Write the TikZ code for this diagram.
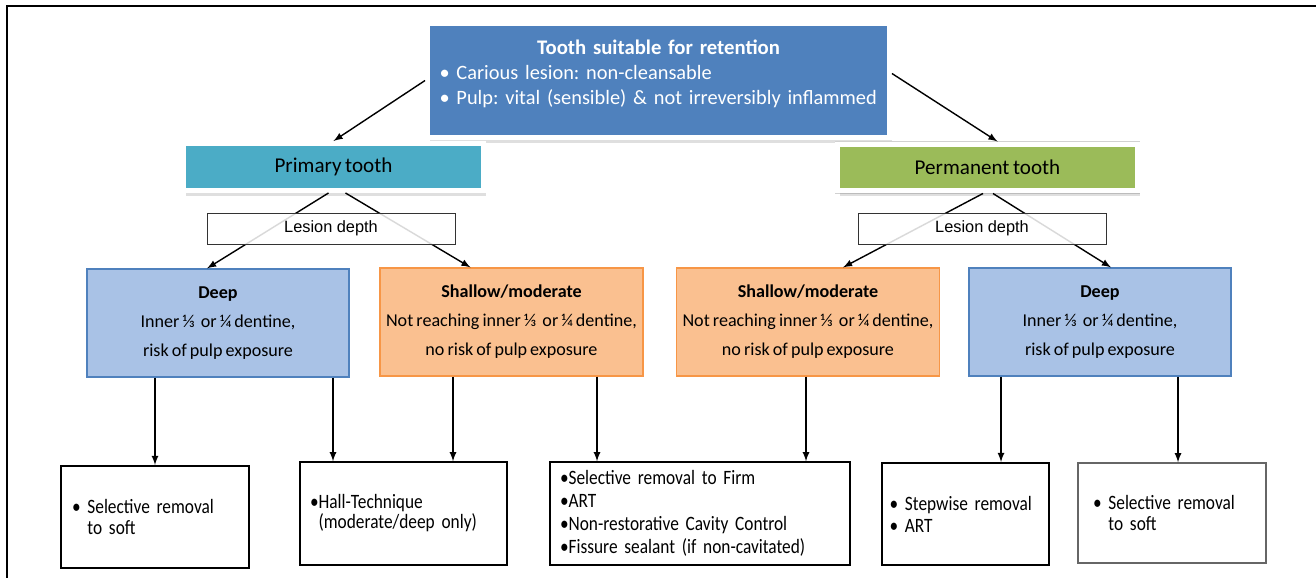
\documentclass[tikz,border=0pt]{standalone}
\usepackage{fontspec}
\setmainfont[WordSpace=0.75]{Carlito}
\newfontfamily\arialfont{Liberation Sans}
\newfontfamily\narrowfont[FakeStretch=0.85, WordSpace=0.8]{Carlito}
\usetikzlibrary{shadows}

\definecolor{topblue}{HTML}{4F81BD}
\definecolor{primteal}{HTML}{4BACC6}
\definecolor{permgreen}{HTML}{9BBB59}
\definecolor{deepfill}{HTML}{A9C2E6}
\definecolor{shalfill}{HTML}{FAC090}
\definecolor{shaledge}{HTML}{F79646}

\begin{document}
\frenchspacing
\begin{tikzpicture}[x=0.02cm, y=-0.02cm, >=latex,
    framed/.style={draw=white, line width=0.1cm,
      preaction={draw=black!18, line width=0.118cm},
      drop shadow={opacity=0.25, shadow xshift=1.6pt, shadow yshift=-3pt}},
    tooth/.style={framed, minimum width=6cm, minimum height=0.94cm,
      font=\fontsize{12}{14}\selectfont},
    depth/.style={draw, line width=0.7pt, minimum width=5.24cm, minimum height=2.16cm,
      align=center, font=\fontsize{10.3}{16.5}\selectfont},
    lesion/.style={draw=black!80, fill=white, fill opacity=0.85, text opacity=1,
      minimum width=4.96cm, minimum height=0.62cm,
      font=\arialfont\fontsize{9.3}{11}\selectfont},
    endbox/.style={draw, line width=0.8pt, align=left, inner xsep=0.2cm,
      font=\narrowfont\fontsize{11.6}{13}\selectfont},
    arr/.style={->, thick}]
  \useasboundingbox (0,0) rectangle (1316,578);

  % frame
  \draw[line width=1.1pt] (7,578) -- (7,6) -- (1316,6);

  \node[framed, fill=topblue, text=white, minimum width=9.24cm, minimum height=2.28cm,
    text width=8.76cm, align=left, font=\fontsize{11.6}{14.2}\selectfont] (top) at (658.5,80.5)
    {\makebox[\linewidth]{\fontsize{11.8}{14.2}\selectfont\textbf{Tooth suitable for retention}}\\
     \mbox{\textbullet\ Carious lesion: non-cleansable}\\
     \mbox{\textbullet\ Pulp: vital (sensible) \& not irreversibly inflammed}\\[-4.5pt]\mbox{}};

  \node[tooth, fill=primteal] (prim) at (333.5,167) {Primary tooth};
  \node[tooth, fill=permgreen] (perm) at (987.5,167.5) {Permanent tooth};

  \node[depth, fill=deepfill, draw=topblue] (deepL) at (218,323)
    {\textbf{Deep}\\Inner ⅓\ \ or ¼ dentine,\\risk of pulp exposure};
  \node[depth, fill=shalfill, draw=shaledge, minimum width=5.26cm] (shalL) at (511.5,322)
    {\textbf{Shallow/moderate}\\Not reaching inner ⅓\ \ or ¼ dentine,\\no risk of pulp exposure};
  \node[depth, fill=shalfill, draw=shaledge] (shalR) at (808,322)
    {\textbf{Shallow/moderate}\\Not reaching inner ⅓\ \ or ¼ dentine,\\no risk of pulp exposure};
  \node[depth, fill=deepfill, draw=topblue] (deepR) at (1100,322)
    {\textbf{Deep}\\Inner ⅓\ \ or ¼ dentine,\\risk of pulp exposure};

  \node[endbox, line width=1.1pt, inner xsep=0.22cm, text width=3.32cm, minimum height=2.04cm,
    font=\narrowfont\fontsize{11.6}{12.5}\selectfont] (softL) at (155,517)
    {\textbullet\ Selective removal\\\phantom{\textbullet\ }to soft};
  \node[endbox, text width=3.74cm, minimum height=2.06cm,
    font=\narrowfont\fontsize{11.6}{9.6}\selectfont] (hall) at (403.5,513.5)
    {\textbullet Hall-Technique\\\phantom{\textbullet}(moderate/deep only)};
  \node[endbox, text width=5.6cm, minimum height=2.06cm] (firm) at (700,513.5)
    {\textbullet Selective removal to Firm\\\textbullet ART\\
     \textbullet Non-restorative Cavity Control\\\textbullet Fissure sealant (if non-cavitated)};
  \node[endbox, line width=1.1pt, inner xsep=0.15cm, text width=3.04cm, minimum height=2.04cm,
    font=\narrowfont\fontsize{11.6}{12.5}\selectfont] (step) at (965.5,514)
    {\textbullet\ Stepwise removal\\\textbullet\ ART};
  \node[endbox, draw=black!60, inner xsep=0.3cm, text width=3.16cm, minimum height=2cm,
    font=\narrowfont\fontsize{11.6}{12.5}\selectfont] (softR) at (1172,513)
    {\textbullet\ Selective removal\\\phantom{\textbullet\ }to soft};

  \draw[arr] (top.west) -- (prim.north);
  \draw[arr] ([yshift=0.14cm]top.east) -- ([xshift=0.2cm]perm.north);

  \draw[arr] ([xshift=-0.1cm]prim.south) -- ([xshift=-0.22cm]deepL.north);
  \draw[arr] ([xshift=0.24cm]prim.south) -- ([xshift=-0.82cm]shalL.north);
  \draw[arr] ([xshift=-0.09cm]perm.south) -- ([xshift=0.7cm]shalR.north);
  \draw[arr] ([xshift=0.11cm]perm.south) -- ([xshift=0.22cm]deepR.north);

  \node[lesion] (lesL) at (331,228.5) {Lesion depth};
  \node[lesion] (lesR) at (982,228.5) {Lesion depth};

  \draw[arr] (deepL.south -| softL.north) -- (softL.north);
  \draw[arr] (deepL.south -| 333,0) -- (hall.north -| 333,0);
  \draw[arr] (shalL.south -| 453,0) -- (hall.north -| 453,0);
  \draw[arr] (shalL.south -| 597,0) -- (firm.north -| 597,0);
  \draw[arr] (shalR.south -| 806,0) -- (firm.north -| 806,0);
  \draw[arr] (deepR.south -| 1001,0) -- (step.north -| 1001,0);
  \draw[arr] (deepR.south -| 1178,0) -- (softR.north -| 1178,0);
\end{tikzpicture}
\end{document}
